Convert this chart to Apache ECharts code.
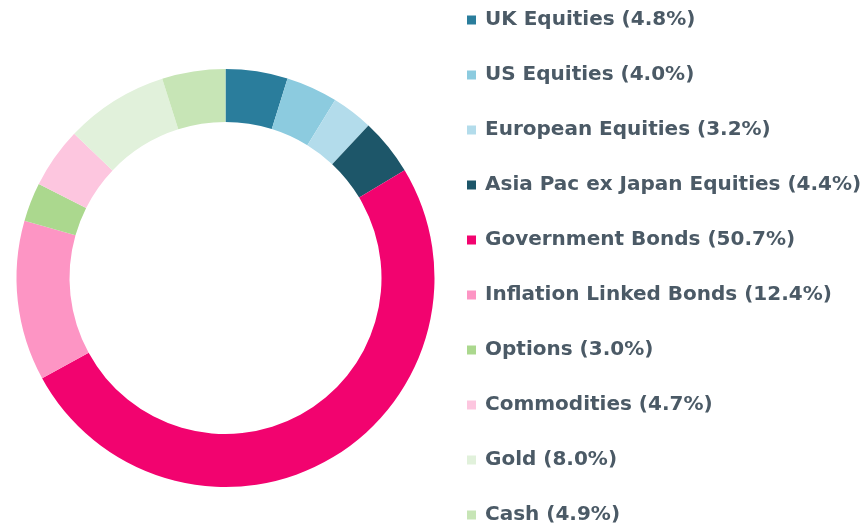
<!DOCTYPE html>
<html>
<head>
<meta charset="utf-8">
<script src="https://cdn.jsdelivr.net/npm/echarts@6/dist/echarts.min.js"></script>
<style>
  html, body { margin: 0; padding: 0; background: #fff; }
  #chart { width: 868px; height: 523px; }
</style>
</head>
<body>
<div id="chart"></div>
<script>
// asset allocation
const categories = ['UK Equities', 'US Equities', 'European Equities', 'Asia Pac ex Japan Equities',
  'Government Bonds', 'Inflation Linked Bonds', 'Options', 'Commodities', 'Gold', 'Cash']
const weights = [4.8, 4.0, 3.2, 4.4, 50.7, 12.4, 3.0, 4.7, 8.0, 4.9]
const colors = ['#2a7d9c', '#8ccbdf', '#b3dceb', '#1d5669', '#f2036f',
  '#fd95c4', '#abd88e', '#fdc6df', '#e1f1db', '#c7e5b6']

const chart = echarts.init(document.getElementById('chart'))

const lookup = {}
categories.forEach((c, i) => { lookup[c] = weights[i] })

chart.setOption({
  animation: false,
  color: colors,
  legend: {
    orient: 'vertical',
    left: 467,
    top: 10,
    height: 520,
    padding: 0,
    itemWidth: 9,
    itemHeight: 9,
    itemGap: 35,
    icon: 'rect',
    data: categories,
    formatter: name => `${name} (${lookup[name].toFixed(1)}%)`,
    textStyle: {
      fontFamily: 'DejaVu Sans',
      fontSize: 20,
      fontWeight: 'bold',
      lineHeight: 20,
      color: '#4b5a66',
      padding: [0, 0, 0, 4]
    }
  },
  series: [{
    type: 'pie',
    center: [225.5, 278],
    radius: [156, 209],
    startAngle: 90,
    label: { show: false },
    labelLine: { show: false },
    emphasis: { disabled: true },
    itemStyle: { borderWidth: 0 },
    data: categories.map((c, i) => ({ name: c, value: weights[i] }))
  }]
})
</script>
</body>
</html>
